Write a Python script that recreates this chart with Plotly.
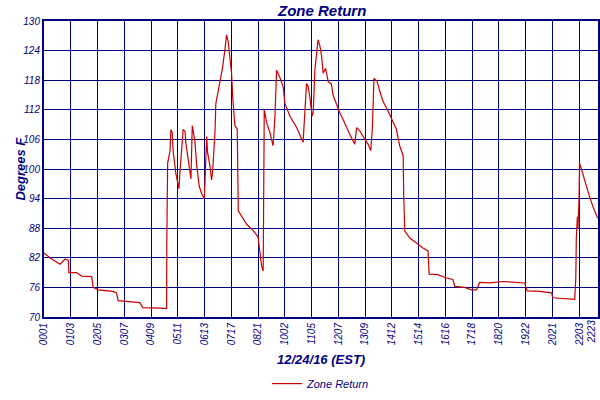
import plotly.graph_objects as go

# positions in tick units (0 = 0001, 20 = 2203, 20.69 = 2223)
tick_labels = ['0001', '0103', '0205', '0307', '0409', '0511', '0613', '0717', '0821', '1002',
               '1105', '1207', '1309', '1412', '1514', '1616', '1718', '1820', '1922', '2021',
               '2203']
tick_pos = list(range(21))
last_label = '2223'
last_pos = 20.70

t = [0, 0.22, 0.60, 0.78, 0.91, 0.93, 1.22, 1.41, 1.78, 1.84, 2.03, 2.58, 2.71, 2.77, 3.58, 3.69,
     4.33, 4.58, 4.59, 4.62, 4.71, 4.74, 4.79, 4.83, 4.93, 4.99, 5.04, 5.08, 5.14, 5.20, 5.27,
     5.30, 5.37, 5.45, 5.49, 5.54, 5.64, 5.70, 5.80, 5.89, 5.99, 6.08, 6.11, 6.20, 6.26, 6.30,
     6.39, 6.42, 6.57, 6.67, 6.76, 6.82, 6.88, 6.95, 7.01, 7.05, 7.13, 7.22, 7.26, 7.57, 7.82,
     8.00, 8.07, 8.13, 8.19, 8.22, 8.23, 8.32, 8.44, 8.56, 8.63, 8.69, 8.81, 8.94, 9.00, 9.19,
     9.44, 9.68, 9.75, 9.81, 9.87, 9.93, 10.02, 10.06, 10.12, 10.18, 10.24, 10.31, 10.37, 10.43,
     10.52, 10.62, 10.74, 10.80, 10.93, 11.05, 11.18, 11.30, 11.43, 11.61, 11.68, 11.80, 11.99,
     12.11, 12.21, 12.27, 12.33, 12.45, 12.55, 12.67, 12.86, 13.04, 13.17, 13.29, 13.42, 13.44,
     13.48, 13.67, 13.98, 14.16, 14.35, 14.39, 14.72, 15.04, 15.28, 15.35, 15.72, 15.97, 16.16,
     16.28, 16.65, 17.15, 17.96, 18.05, 18.52, 18.96, 19.02, 19.83, 19.87, 19.89, 19.93, 19.95,
     19.99, 20.01, 20.08, 20.20, 20.39, 20.51, 20.69]
temp = [83.0, 82.0, 80.7, 81.7, 81.5, 79.0, 79.0, 78.3, 78.2, 76.0, 75.5, 75.2, 74.9, 73.3, 72.9, 71.9,
        71.8, 71.7, 85.9, 101.2, 103.7, 108.0, 107.4, 103.4, 99.0, 97.0, 96.0, 99.4, 103.0, 108.0, 107.6,
        105.3, 102.6, 99.4, 98.0, 108.8, 105.6, 101.1, 96.5, 95.0, 94.0, 106.6, 103.4, 100.7, 97.8, 99.4,
        107.6, 113.2, 117.2, 120.5, 124.2, 127.2, 125.9, 122.6, 119.3, 114.7, 108.8, 108.1, 91.5, 88.8, 87.5,
        86.2, 82.9, 80.3, 79.3, 96.1, 112.0, 109.4, 107.4, 104.7, 110.7, 120.0, 118.6, 116.6, 113.3, 110.7,
        108.4, 105.4, 111.7, 117.3, 116.7, 114.7, 110.7, 111.5, 120.0, 123.0, 126.2, 124.9, 123.0, 119.4,
        120.4, 117.7, 117.2, 115.0, 113.0, 111.4, 110.0, 108.7, 107.0, 105.0, 108.4, 107.7, 106.0,
        105.0, 103.7, 108.4, 118.4, 117.7, 115.7, 113.7, 111.7, 109.7, 108.0, 104.7, 102.7, 94.7,
        87.4, 86.0, 84.7, 84.0, 83.4, 78.7, 78.6, 77.9, 77.6, 76.2, 76.0, 75.5, 75.5,
        77.0, 76.9, 77.2, 76.9, 75.3, 75.2, 74.9, 73.9, 73.6, 77.8, 86.0, 90.3, 88.0,
        93.7, 101.2, 100.0, 97.7, 94.3, 92.4, 90.0]

navy = '#00007f'
font = dict(family='Liberation Sans, Arial', color=navy, size=11, style='italic')

fig = go.Figure()
fig.add_trace(go.Scatter(x=t, y=temp, mode='lines', name='Zone Return',
                         line=dict(color='#cc0000', width=1.2)))

fig.update_layout(
    width=600, height=400,
    margin=dict(l=44, r=2, t=21, b=78),
    paper_bgcolor='white', plot_bgcolor='white',
    font=font,
    showlegend=True,
    legend=dict(x=0.5, y=-0.225, xanchor='center', yanchor='middle', orientation='h',
                font=dict(size=11, color=navy, style='italic')),
    annotations=[
        dict(text='<b>Zone Return</b>', x=0.5, y=1, xref='paper', yref='paper',
             yanchor='bottom', yshift=0, showarrow=False,
             font=dict(size=15, color=navy, style='italic')),
        dict(text='<b>12/24/16 (EST)</b>', x=0.5, y=-0.143, xref='paper', yref='paper',
             yanchor='middle', showarrow=False,
             font=dict(size=13, color=navy, style='italic')),
        dict(text='<b>Degrees F</b>', x=-0.044, y=0.5, xref='paper', yref='paper',
             textangle=-90, xanchor='center', showarrow=False,
             font=dict(size=13, color=navy, style='italic')),
        dict(text=last_label, x=last_pos, xref='x', y=0, yref='paper', yanchor='top',
             xanchor='right', yshift=-1, textangle=-90, showarrow=False,
             font=dict(size=10, color=navy, style='italic')),
    ],
    xaxis=dict(range=[0, 20.70], tickvals=tick_pos, ticktext=tick_labels, tickangle=-90,
               showgrid=True, gridcolor=navy, gridwidth=1.2, zeroline=False, automargin=False,
               showline=True, linecolor=navy, linewidth=2, mirror=True, ticks='',
               tickfont=dict(size=10, color=navy, style='italic')),
    yaxis=dict(range=[70, 130], dtick=6, tick0=70, showgrid=True, gridcolor=navy, gridwidth=1.2,
               zeroline=False, showline=True, linecolor=navy, linewidth=2, mirror=True, ticks='',
               automargin=False, tickfont=dict(size=10, color=navy, style='italic')),
)

fig.write_html('out.html', config={'displayModeBar': False},
               post_script="document.body.style.margin='0';")
